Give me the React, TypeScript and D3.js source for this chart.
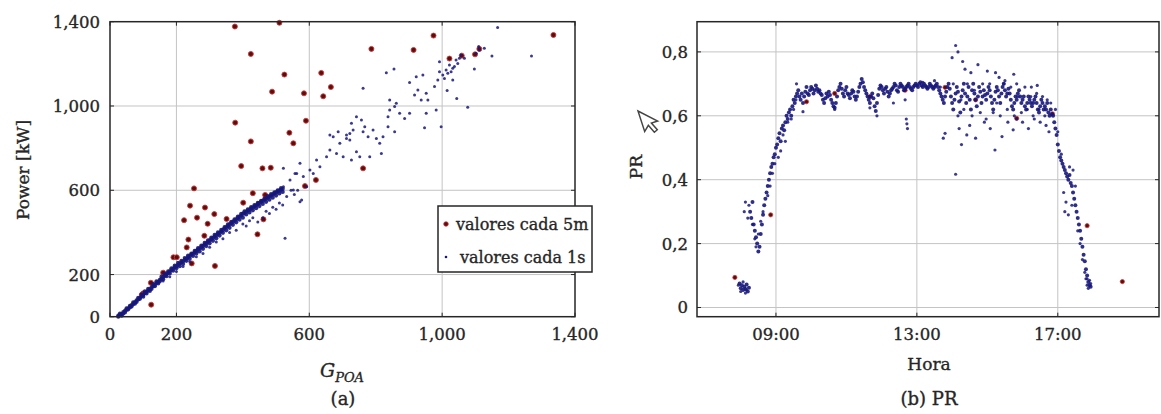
import React from 'react';
import * as d3 from 'd3';

// (a) potencia frente a irradiancia
const powerTicks = [0, 200, 600, 1000, 1400];

// valores cada 5m  [G_POA, kW]
const power5m: [number, number][] = [
  [376, 1377], [510, 1395], [424, 1247], [525, 1149], [488, 1068], [377, 921], [424, 832],
  [540, 873], [552, 823], [395, 715], [459, 704], [484, 707], [253, 609], [430, 586],
  [636, 1157], [665, 1090], [584, 1060], [642, 1046], [590, 930], [787, 1271], [914, 1266],
  [974, 1334], [1335, 1337], [1112, 1271], [1099, 1245], [1059, 1239], [1022, 1225],
  [762, 704], [620, 649], [587, 620], [467, 578], [401, 541], [241, 527], [286, 518],
  [314, 487], [262, 470], [223, 458], [294, 441], [351, 464], [462, 462], [284, 384],
  [444, 391], [236, 366], [231, 329], [191, 282], [201, 282], [246, 253], [316, 241],
  [160, 209], [123, 161], [100, 111], [124, 57], [96, 105],
];

// valores cada 1s, banda densa: [G_POA, kW, kW]
const power1sBand: [number, number, number][] = [
  [25, 0, 5], [30, 8, 15], [35, 12, 5], [40, 22, 15], [45, 28, 20], [50, 32, 40], [55, 40, 35],
  [60, 45, 52], [65, 55, 48], [70, 60, 68], [75, 68, 62], [80, 78, 70], [85, 82, 90], [90, 90, 85],
  [95, 98, 105], [100, 105, 95], [105, 112, 120], [110, 118, 110], [115, 125, 132], [120, 130, 122],
  [125, 140, 132], [130, 145, 155], [135, 152, 145], [140, 160, 168], [145, 165, 158], [150, 175, 168],
  [155, 180, 190], [160, 188, 178], [165, 195, 205], [170, 200, 192], [175, 208, 215], [180, 215, 205],
  [185, 222, 230], [190, 228, 218], [195, 235, 242], [200, 240, 230], [205, 246, 255], [210, 252, 240],
  [215, 258, 265], [220, 262, 250], [225, 270, 278], [230, 276, 265], [235, 282, 290], [240, 288, 275],
  [245, 294, 300], [250, 300, 288], [255, 305, 312], [260, 312, 300], [265, 318, 325], [270, 324, 310],
  [275, 330, 338], [280, 336, 322], [285, 342, 350], [290, 348, 335], [295, 355, 362], [300, 362, 348],
  [305, 368, 375], [310, 374, 360], [315, 380, 388], [320, 386, 372], [325, 392, 400], [330, 398, 385],
  [335, 405, 412], [340, 412, 398], [345, 418, 425], [350, 425, 410], [355, 430, 438], [360, 438, 422],
  [365, 444, 450], [370, 450, 436], [375, 455, 462], [380, 462, 448], [385, 468, 475], [390, 475, 460],
  [395, 480, 488], [400, 488, 470], [405, 492, 500], [410, 498, 485], [415, 503, 510], [420, 508, 495],
  [425, 514, 520], [430, 518, 505], [435, 524, 530], [440, 528, 515], [445, 534, 540], [450, 540, 525],
  [455, 545, 550], [460, 550, 535], [465, 555, 560], [470, 560, 545], [475, 565, 572], [480, 570, 555],
  [485, 575, 582], [490, 580, 565], [495, 585, 590], [500, 590, 575], [505, 594, 600], [510, 598, 585],
  [515, 603, 610], [520, 607, 592],
];

// valores cada 1s, dispersos
const power1sScatter: [number, number][] = [
  [400, 440], [420, 455], [445, 450], [460, 470], [480, 490], [500, 510], [520, 530], [470, 500],
  [490, 520], [510, 540], [380, 410], [360, 400], [410, 430], [430, 470], [527, 372], [572, 546],
  [577, 554], [545, 600], [555, 580], [565, 600], [522, 704], [557, 680], [300, 330], [320, 355],
  [340, 370], [260, 285], [280, 300], [240, 262], [220, 238], [200, 215], [180, 190], [160, 170],
  [632, 712], [622, 744], [652, 759], [662, 791], [682, 775], [692, 823], [712, 846], [722, 870],
  [702, 759], [727, 744], [742, 783], [752, 759], [672, 854], [662, 862], [687, 878], [712, 862],
  [732, 886], [757, 933], [767, 902], [777, 854], [762, 878], [782, 759], [812, 823], [822, 854],
  [802, 846], [837, 949], [842, 981], [857, 997], [872, 965], [887, 941], [902, 965], [842, 1028],
  [862, 1013], [837, 902], [857, 878], [817, 775], [762, 1084], [832, 1158], [855, 1176], [902, 1111],
  [917, 1052], [927, 1076], [937, 1028], [952, 1060], [957, 1028], [977, 1092], [987, 1123], [952, 965],
  [982, 981], [947, 897], [997, 902], [1002, 1147], [1012, 1171], [1022, 1195], [1032, 1179],
  [1042, 1218], [1052, 1226], [1032, 1123], [1015, 1073], [1044, 1036], [1077, 994], [1097, 1176],
  [1110, 1282], [1127, 1274], [1150, 1237], [1167, 1372], [1269, 1237], [992, 1210], [942, 1147],
  [922, 1139], [742, 949], [727, 918], [722, 839], [792, 886], [522, 617], [542, 649], [562, 680],
  [582, 665], [602, 696], [572, 728], [552, 601], [532, 570], [612, 680], [592, 617], [992, 1163],
  [1007, 1131], [1017, 1155], [1027, 1163], [1037, 1187], [1047, 1202], [1057, 1242], [1067, 1226],
  [1112, 1266], [1102, 1250],
];

// (b) PR
const prTicks = [0, 0.2, 0.4, 0.6, 0.8];
const hourTicks = ['09:00', '13:00', '17:00'];

// valores cada 1s, muestreados cada 2 minutos desde 07:58 (PR x1000)
const pr1sStart = 478;
const pr1sStep = 2;
const pr1sValues = [
  75, 60, 70, 55, 65, 58, 72, 50, 62,
  300, 280, 330, 260, 240, 220, 200, 175, 190, 230, 260, 290, 320, 340,
  360, 380, 400, 420, 440, 450, 470, 480, 500,
  510, 530, 545, 520, 560, 570, 555, 580, 600, 590, 610, 620, 600, 630, 650, 640, 660, 670,
  680, 660, 650, 670, 640, 660, 675, 690, 670, 665,
  680, 690, 685, 670, 680, 695, 685, 675, 680, 670,
  665, 650, 640, 655, 670, 660, 675, 665, 650, 640,
  630, 625, 640, 660, 680, 690, 700, 685, 670, 660,
  680, 690, 670, 665, 655, 670, 680, 675, 660, 650,
  660, 675, 690, 700, 715, 705, 690, 680, 670, 660,
  650, 640, 660, 670, 655, 630, 615, 640, 665, 685,
  695, 690, 680, 670, 685, 690, 675, 660, 670, 680,
  685, 690, 700, 695, 680, 675, 690, 700, 695, 690,
  680, 685, 690, 695, 700, 690, 685, 680, 690, 695,
  700, 695, 690, 700, 705, 695, 690, 700, 695, 690,
  685, 690, 700, 695, 690, 685, 690, 695, 700, 690,
  680, 670, 660, 650, 640, 660, 675, 690, 700, 685,
  660, 640, 620, 650, 670, 690, 675, 645, 610, 660,
  680, 700, 670, 640, 660, 690, 650, 620, 680, 700,
  670, 650, 630, 660, 690, 675, 640, 660, 680, 665,
  650, 670, 690, 680, 660, 640, 620, 650, 675, 690,
  680, 660, 640, 670, 690, 700, 680, 660, 670, 685,
  670, 650, 630, 620, 640, 660, 650, 670, 680, 660,
  640, 650, 660, 630, 620, 640, 660, 650, 640, 630,
  640, 650, 660, 640, 620, 610, 630, 650, 640, 620,
  630, 620, 640, 610, 600, 620, 605,
  600, 580, 560, 540, 510, 490, 470, 460, 450, 440, 430, 420, 410, 400, 415, 390, 380,
  360, 340, 320, 300, 280, 260, 240, 215, 190, 165, 145, 120, 100, 80, 70, 65,
];

// valores cada 1s adicionales [minuto, PR]
const pr1sExtra: [number, number][] = [
  [476, 0.07], [480, 0.05], [484, 0.08], [488, 0.045], [490, 0.055], [486, 0.3], [488, 0.33],
  [492, 0.28], [494, 0.32], [500, 0.26], [504, 0.215], [506, 0.19], [510, 0.23], [514, 0.27],
  [518, 0.3], [526, 0.35], [530, 0.38], [534, 0.42], [538, 0.45], [544, 0.47], [548, 0.49],
  [552, 0.54], [556, 0.52], [560, 0.58], [566, 0.59], [570, 0.62], [574, 0.65], [575, 0.7],
  [586, 0.613], [640, 0.62], [700, 0.625], [712, 0.6], [762, 0.59], [763, 0.575], [764, 0.56],
  [740, 0.64], [760, 0.65], [790, 0.705], [810, 0.71], [820, 0.69],
  [840, 0.782], [846, 0.82], [850, 0.8], [858, 0.77], [862, 0.746], [872, 0.735], [884, 0.76],
  [900, 0.74], [914, 0.735], [920, 0.72], [930, 0.71], [945, 0.73], [950, 0.7], [975, 0.69],
  [985, 0.695], [825, 0.53], [828, 0.545], [846, 0.417], [852, 0.56], [856, 0.51], [865, 0.54],
  [870, 0.57], [880, 0.53], [895, 0.58], [905, 0.56], [913, 0.493], [925, 0.535], [935, 0.58],
  [944, 0.556], [950, 0.59], [960, 0.58], [970, 0.56], [980, 0.59], [990, 0.58], [1000, 0.57],
  [1005, 0.55], [842, 0.7], [850, 0.6], [855, 0.65], [860, 0.62], [866, 0.7], [874, 0.6],
  [878, 0.68], [888, 0.61], [892, 0.7], [898, 0.59], [904, 0.7], [910, 0.61], [916, 0.64],
  [922, 0.6], [928, 0.7], [934, 0.62], [940, 0.69], [946, 0.6], [952, 0.66], [958, 0.61],
  [964, 0.69], [968, 0.62], [974, 0.66], [978, 0.6], [984, 0.67], [988, 0.62], [994, 0.66],
  [998, 0.6], [1002, 0.65], [1008, 0.64],
  [1016, 0.62], [1020, 0.55], [1026, 0.48], [1030, 0.36], [1032, 0.3], [1034, 0.33], [1038, 0.29],
  [1040, 0.44], [1044, 0.32], [1046, 0.43], [1050, 0.38], [1054, 0.24], [1058, 0.2], [1062, 0.15],
  [1066, 0.11], [1068, 0.09], [1070, 0.07], [1072, 0.06], [1074, 0.085], [1076, 0.075], [1070, 0.09],
];

// valores cada 5m [minuto, PR]
const pr5m: [number, number][] = [
  [470, 0.094], [531, 0.29], [1070, 0.256], [1130, 0.081], [1011, 0.606], [592, 0.644],
  [828, 0.689], [950, 0.592], [700, 0.66], [880, 0.65], [640, 0.67], [760, 0.68],
];

const SERIF = '"DejaVu Serif", serif';
const INK = '#262626';
const GRID = '#c4c4c4';
const RED_FILL = '#5c0d0d';
const RED_EDGE = '#cc3b3b';
const BLUE = '#17177a';

const prFmt = d3.formatLocale({ decimal: ',', thousands: '.', grouping: [3], currency: ['', ''] }).format('.1~f');
const minutesOf = (s: string) => +s.slice(0, 2) * 60 + +s.slice(3);

const App = () => {
  const xA = d3.scaleLinear().domain([0, 1400]).range([110, 575]);
  const yA = d3.scaleLinear().domain([0, 1400]).range([316.7, 21.7]);
  const xB = d3.scaleLinear().domain([405.5, 1192.4]).range([697, 1159]);
  const yB = d3.scaleLinear().domain([-0.0288, 0.8945]).range([316.7, 21.7]);

  const band: [number, number][] = power1sBand.flatMap(([g, a, b]) => [[g, a], [g, b]] as [number, number][]);
  const prLine: [number, number][] = pr1sValues.map((v, i) => [pr1sStart + i * pr1sStep, v / 1000]);

  const [a0, a1] = xA.range();
  const [ab, at] = yA.range();
  const [b0, b1] = xB.range();
  const [bb, bt] = yB.range();
  const tk = 4;
  const txt = { stroke: INK, strokeWidth: 0.35 };

  return (
    <svg width={1161} height={414} style={{ position: 'absolute', left: 0, top: 0, background: '#fff' }}
      fontFamily={SERIF} fill={INK}>
      {/* ---------- (a) ---------- */}
      <g>
        {powerTicks.filter(v => v > 0 && v < 1400).map(v => (
          <g key={'ga' + v} stroke={GRID} strokeWidth={1}>
            <line x1={xA(v)} x2={xA(v)} y1={ab} y2={at} />
            <line x1={a0} x2={a1} y1={yA(v)} y2={yA(v)} />
          </g>
        ))}
        {powerTicks.map(v => (
          <g key={'ta' + v} stroke={INK} strokeWidth={1}>
            <line x1={xA(v)} x2={xA(v)} y1={ab} y2={ab - tk} />
            <line x1={xA(v)} x2={xA(v)} y1={at} y2={at + tk} />
            <line x1={a0} x2={a0 + tk} y1={yA(v)} y2={yA(v)} />
            <line x1={a1} x2={a1 - tk} y1={yA(v)} y2={yA(v)} />
          </g>
        ))}
        {power5m.map(([g, p], i) => (
          <circle key={'ra' + i} cx={xA(g)} cy={yA(p)} r={2.5} fill={RED_FILL} stroke={RED_EDGE} strokeWidth={0.9} />
        ))}
        {band.map(([g, p], i) => (
          <circle key={'bd' + i} cx={xA(g)} cy={yA(p)} r={2.1} fill={BLUE} fillOpacity={0.9} />
        ))}
        {power1sScatter.map(([g, p], i) => (
          <circle key={'ba' + i} cx={xA(g)} cy={yA(p)} r={1.5} fill={BLUE} fillOpacity={0.85} />
        ))}
        <rect x={a0} y={at} width={a1 - a0} height={ab - at} fill="none" stroke={INK} strokeWidth={1.5} />
        {powerTicks.map(v => (
          <text key={'xa' + v} x={xA(v)} y={340} textAnchor="middle" fontSize={16.5} {...txt}>{d3.format(',')(v)}</text>
        ))}
        {powerTicks.map(v => (
          <text key={'ya' + v} x={100} y={yA(v) + 6} textAnchor="end" fontSize={16.5} {...txt}>{d3.format(',')(v)}</text>
        ))}
        <text transform="translate(29,170) rotate(-90)" textAnchor="middle" fontSize={17} {...txt}>Power [kW]</text>
        <text x={342} y={377} textAnchor="middle" fontStyle="italic" fontSize={19} {...txt}>
          G<tspan fontSize={13} dy={5}>POA</tspan>
        </text>
        <text x={343} y={405} textAnchor="middle" fontSize={18} {...txt}>(a)</text>

        <rect x={438} y={206} width={154} height={66} fill="#fff" stroke={INK} strokeWidth={1.5} />
        <circle cx={446} cy={224} r={2.3} fill={RED_FILL} stroke={RED_EDGE} strokeWidth={0.8} />
        <circle cx={446} cy={257} r={1.3} fill={BLUE} />
        <text x={456} y={230} fontSize={16} {...txt}>valores cada 5m</text>
        <text x={460} y={263} fontSize={16} {...txt}>valores cada 1s</text>
      </g>

      {/* ---------- (b) ---------- */}
      <g>
        {hourTicks.map(h => (
          <line key={'gbx' + h} x1={xB(minutesOf(h))} x2={xB(minutesOf(h))} y1={bb} y2={bt} stroke={GRID} strokeWidth={1} />
        ))}
        {prTicks.map(v => (
          <line key={'gby' + v} x1={b0} x2={b1} y1={yB(v)} y2={yB(v)} stroke={GRID} strokeWidth={1} />
        ))}
        {hourTicks.map(h => (
          <g key={'tbx' + h} stroke={INK} strokeWidth={1}>
            <line x1={xB(minutesOf(h))} x2={xB(minutesOf(h))} y1={bb} y2={bb - tk} />
            <line x1={xB(minutesOf(h))} x2={xB(minutesOf(h))} y1={bt} y2={bt + tk} />
          </g>
        ))}
        {prTicks.map(v => (
          <g key={'tby' + v} stroke={INK} strokeWidth={1}>
            <line x1={b0} x2={b0 + tk} y1={yB(v)} y2={yB(v)} />
            <line x1={b1} x2={b1 - tk} y1={yB(v)} y2={yB(v)} />
          </g>
        ))}
        {pr5m.map(([m, v], i) => (
          <circle key={'rb' + i} cx={xB(m)} cy={yB(v)} r={2.1} fill={RED_FILL} stroke={RED_EDGE} strokeWidth={0.8} />
        ))}
        {prLine.map(([m, v], i) => (
          <circle key={'bl' + i} cx={xB(m)} cy={yB(v)} r={2.0} fill={BLUE} fillOpacity={0.9} />
        ))}
        {pr1sExtra.map(([m, v], i) => (
          <circle key={'bb' + i} cx={xB(m)} cy={yB(v)} r={1.6} fill={BLUE} fillOpacity={0.85} />
        ))}
        <rect x={b0} y={bt} width={b1 - b0} height={bb - bt} fill="none" stroke={INK} strokeWidth={1.5} />
        {hourTicks.map(h => (
          <text key={'xb' + h} x={xB(minutesOf(h))} y={340} textAnchor="middle" fontSize={16.5} {...txt}>{h}</text>
        ))}
        {prTicks.map(v => (
          <text key={'yb' + v} x={688} y={yB(v) + 6} textAnchor="end" fontSize={16.5} {...txt}>{prFmt(v)}</text>
        ))}
        <text transform="translate(642,167) rotate(-90)" textAnchor="middle" fontSize={17} {...txt}>PR</text>
        <text x={929} y={370} textAnchor="middle" fontSize={17} {...txt}>Hora</text>
        <text x={929} y={405} textAnchor="middle" fontSize={18} {...txt}>(b) PR</text>
        <path d="M0,0 L0,18 L4.5,14 L7.5,21 L10.5,19.8 L7.5,13 L13,13 Z"
          transform="translate(638,111) rotate(-18) scale(1.2)" fill="#fff" stroke="#444" strokeWidth={1.2} />
      </g>
    </svg>
  );
};

export default App;
